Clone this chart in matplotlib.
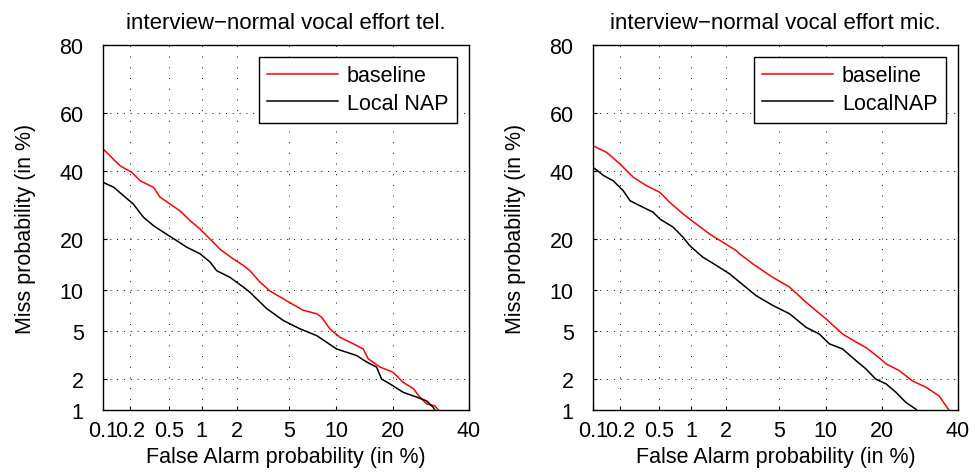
import numpy as np
import matplotlib
matplotlib.use("Agg")
import matplotlib.pyplot as plt
from statistics import NormalDist

plt.rcParams['font.family'] = ['Liberation Sans', 'DejaVu Sans']

# ---- data (percent) ----
tel_base_fa = [0.1, 0.155, 0.207, 0.254, 0.347, 0.405, 0.507, 0.633, 0.785, 0.968, 1.187, 1.451,
               1.875, 2.26, 2.55, 3.05, 3.62, 4.78, 6.20, 7.58, 8.15, 9.15, 10.5, 12.5, 14.15,
               15.05, 17.27, 20.0, 22.25, 24.7, 26.3, 28.05, 30.2, 31.2]
tel_base_miss = [47.6, 41.8, 39.6, 36.8, 34.7, 31.6, 29.5, 27.5, 24.75, 22.5, 20.0, 17.6,
                 15.5, 14.2, 13.2, 11.2, 9.8, 8.4, 7.2, 6.8, 6.4, 5.24, 4.5, 3.99, 3.62,
                 2.99, 2.54, 2.28, 1.85, 1.61, 1.34, 1.15, 1.1, 1.0]
tel_nap_fa = [0.1, 0.132, 0.168, 0.215, 0.274, 0.347, 0.467, 0.588, 0.732, 0.968, 1.187, 1.358,
              1.76, 2.26, 2.55, 3.43, 4.52, 5.90, 7.58, 10.04, 13.04, 14.8, 16.6, 17.6, 19.3,
              22.25, 25.5, 28.05, 29.8, 30.2]
tel_nap_miss = [36.3, 34.7, 32.1, 29.5, 25.7, 23.4, 21.2, 19.6, 18.05, 16.6, 14.9, 13.2,
                12.0, 10.4, 9.6, 7.4, 6.07, 5.24, 4.64, 3.62, 3.19, 2.80, 2.54, 1.98, 1.79,
                1.49, 1.34, 1.23, 1.06, 1.0]

mic_base_fa = [0.1, 0.142, 0.199, 0.274, 0.375, 0.507, 0.633, 0.843, 1.11, 1.451, 1.875, 2.40,
               2.55, 3.23, 4.52, 5.90, 7.58, 10.04, 12.5, 14.8, 16.6, 19.3, 20.8, 23.9, 27.2,
               30.7, 34.4, 37.3]
mic_base_miss = [48.7, 46.4, 42.4, 37.95, 35.2, 33.1, 30.0, 26.6, 23.8, 21.2, 19.2, 17.3,
                 16.6, 14.5, 12.0, 10.4, 8.2, 6.23, 4.78, 4.12, 3.73, 3.06, 2.71, 2.36, 1.90,
                 1.67, 1.38, 1.0]
mic_nap_fa = [0.1, 0.132, 0.168, 0.215, 0.254, 0.321, 0.436, 0.507, 0.679, 0.843, 0.968, 1.27,
              1.65, 2.13, 2.55, 3.43, 4.52, 5.90, 7.58, 9.15, 10.5, 12.5, 14.8, 16.6, 18.6,
              20.8, 23.1, 25.5, 28.05, 28.3]
mic_nap_miss = [41.3, 38.5, 36.8, 33.6, 30.5, 29.0, 27.1, 25.2, 23.0, 20.4, 18.4, 15.85,
                14.2, 12.6, 11.2, 9.1, 7.8, 6.8, 5.38, 4.78, 3.99, 3.62, 2.88, 2.45, 1.98,
                1.79, 1.49, 1.19, 1.02, 1.0]

x_ticks = [0.1, 0.2, 0.5, 1, 2, 5, 10, 20, 40]
y_ticks = [1, 2, 5, 10, 20, 40, 60, 80]
titles = ["interview\u2212normal vocal effort tel.", "interview\u2212normal vocal effort mic."]
legend_labels = [["baseline", "Local NAP"], ["baseline", "LocalNAP"]]

_nd = NormalDist()
_ppf = np.vectorize(lambda p: _nd.inv_cdf(min(max(p, 1e-9), 1 - 1e-9)), otypes=[float])
_cdf = np.vectorize(lambda z: _nd.cdf(z), otypes=[float])


def fwd(v):
    return _ppf(np.asarray(v, dtype=float) / 100.0)


def inv(z):
    return _cdf(np.asarray(z, dtype=float)) * 100.0


FS = 15.5
fig = plt.figure(figsize=(9.75, 4.77), dpi=100)
W, H = 975, 477
axes_px = [(103, 46, 469, 411), (593, 46, 958, 411)]
series = [
    (tel_base_fa, tel_base_miss, tel_nap_fa, tel_nap_miss),
    (mic_base_fa, mic_base_miss, mic_nap_fa, mic_nap_miss),
]

for i, (x0, y0, x1, y1) in enumerate(axes_px):
    ax = fig.add_axes([x0 / W, 1 - y1 / H, (x1 - x0) / W, (y1 - y0) / H])
    ax.set_xscale('function', functions=(fwd, inv))
    ax.set_yscale('function', functions=(fwd, inv))
    bfa, bm, nfa, nm = series[i]
    ax.plot(bfa, bm, color='red', lw=1.1, label=legend_labels[i][0])
    ax.plot(nfa, nm, color='black', lw=1.1, label=legend_labels[i][1])
    ax.set_xlim(0.1, 40)
    ax.set_ylim(1, 80)
    ax.set_xticks(x_ticks)
    ax.set_xticklabels([f"{t:g}" for t in x_ticks])
    ax.set_yticks(y_ticks)
    ax.set_yticklabels([f"{t:g}" for t in y_ticks])
    ax.xaxis.set_minor_locator(matplotlib.ticker.NullLocator())
    ax.yaxis.set_minor_locator(matplotlib.ticker.NullLocator())
    ax.tick_params(axis='y', direction='in', length=3, labelsize=FS, pad=14, colors='black')
    ax.tick_params(axis='x', direction='in', length=3, labelsize=FS, pad=7, colors='black')
    ax.xaxis.grid(True, color='black', linestyle=(0, (1, 10)), linewidth=0.7)
    ax.yaxis.grid(True, color='black', linestyle=(0, (1, 6)), linewidth=0.7)
    for s in ax.spines.values():
        s.set_linewidth(1.0)
    ax.set_title(titles[i], fontsize=FS + 0.5, pad=12)
    ax.set_xlabel("False Alarm probability (in %)", fontsize=FS, labelpad=4)
    ax.set_ylabel("Miss probability (in %)", fontsize=FS, labelpad=17)
    leg = ax.legend(loc='upper right', fontsize=FS, fancybox=False, framealpha=1,
                    edgecolor='black', handlelength=3.3, borderaxespad=0.55,
                    handletextpad=0.4, labelspacing=0.3, borderpad=0.4)
    leg.get_frame().set_linewidth(1.0)

fig.savefig("out.png", dpi=100)
